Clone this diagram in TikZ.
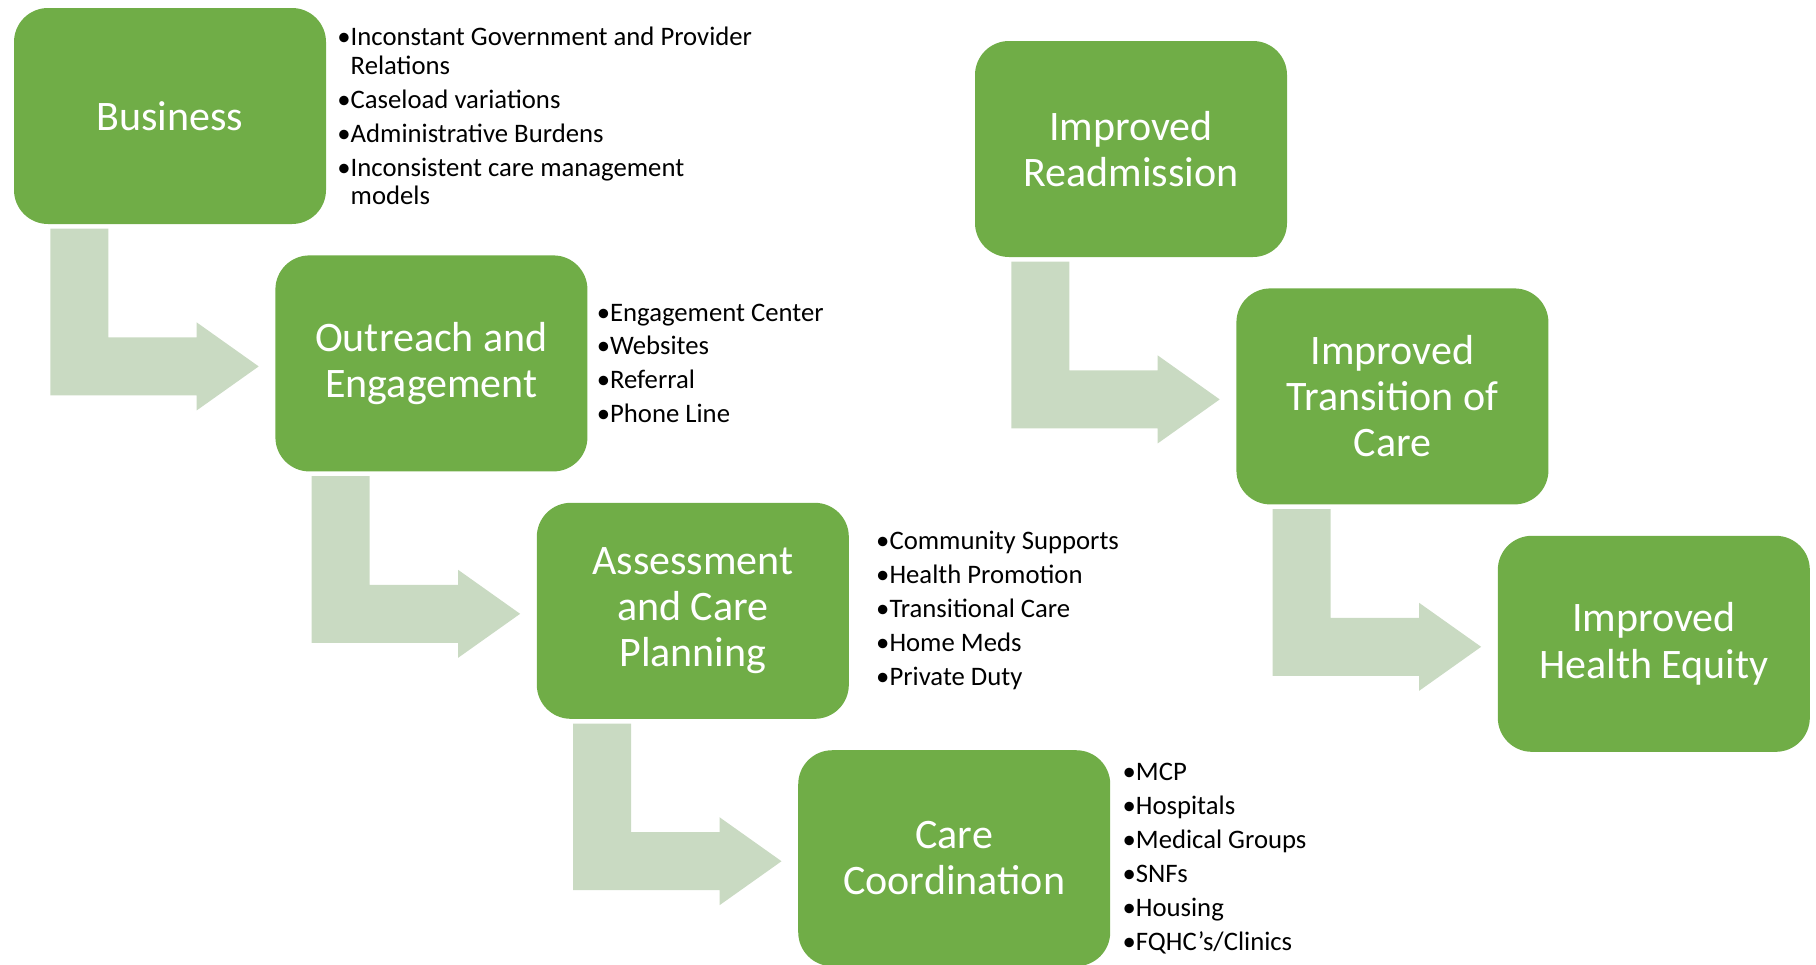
\documentclass[tikz,border=0pt]{standalone}
\usepackage{fontspec}
\setmainfont{Carlito}
\usetikzlibrary{positioning, calc}
\definecolor{boxgreen}{HTML}{70AD47}
\definecolor{arrowgreen}{HTML}{C9DAC2}

\begin{document}
\begin{tikzpicture}[stage/.style={rectangle, rounded corners=0.34cm, fill=boxgreen, text=white, minimum width=3.12cm, minimum height=2.16cm, inner sep=0, align=center, font=\fontsize{11.95}{13.1}\selectfont},
notes/.style={inner sep=0, align=left, font=\fontsize{7.6}{8.17}\selectfont},
bendarrow/.style={fill=arrowgreen, to path={($(\tikztostart.south west)+(0.37,-0.04)$) -- ($(\tikztostart.south west)+(0.95,-0.04)$) |- ($(\tikztotarget.west)+(-0.78,0.26)$) -- ($(\tikztotarget.west)+(-0.78,0.41)$) -- ($(\tikztotarget.west)+(-0.16,-0.03)$) -- ($(\tikztotarget.west)+(-0.78,-0.47)$) -- ($(\tikztotarget.west)+(-0.78,-0.32)$) -| ($(\tikztostart.south west)+(0.37,-0.04)$) -- cycle}}]

            \useasboundingbox (0,0) rectangle (18.16,-9.64);

            % left column
            \node[stage] (business) at (1.70,-1.16) {Business};
            \node[stage, below right=0.30cm and -0.52cm of business] (outreach) {Outreach and\\Engagement};
            \node[stage, below right=0.30cm and -0.52cm of outreach] (assessment) {Assessment\\and Care\\Planning};
            \node[stage, below right=0.30cm and -0.52cm of assessment] (careCoord) {Care\\Coordination};

            % right column
            \node[stage] (readmission) at (11.31,-1.49) {Improved\\Readmission};
            \node[stage, below right=0.30cm and -0.52cm of readmission] (transition) {Improved\\Transition of\\Care};
            \node[stage, below right=0.30cm and -0.52cm of transition] (equity) {Improved\\Health Equity};

            \path[bendarrow] (business) to (outreach);
            \path[bendarrow] (outreach) to (assessment);
            \path[bendarrow] (assessment) to (careCoord);
            \path[bendarrow] (readmission) to (transition);
            \path[bendarrow] (transition) to (equity);

            \node[notes, right=0.10cm of business] (businessList) {•Inconstant Government and Provider\\\hphantom{•}Relations\\[1.5pt]•Caseload variations\\[1.5pt]•Administrative Burdens\\[1.5pt]•Inconsistent care management\\\hphantom{•}models};
            \node[notes, right=0.08cm of outreach] (outreachList) {•Engagement Center\\[1.5pt]•Websites\\[1.5pt]•Referral\\[1.5pt]•Phone Line};
            \node[notes, right=0.26cm of assessment] (assessmentList) {•Community Supports\\[1.5pt]•Health Promotion\\[1.5pt]•Transitional Care\\[1.5pt]•Home Meds\\[1.5pt]•Private Duty};
            \node[notes, right=0.11cm of careCoord] (careList) {•MCP\\[1.5pt]•Hospitals\\[1.5pt]•Medical Groups\\[1.5pt]•SNFs\\[1.5pt]•Housing\\[1.5pt]•FQHC’s/Clinics};
        \end{tikzpicture}
\end{document}
